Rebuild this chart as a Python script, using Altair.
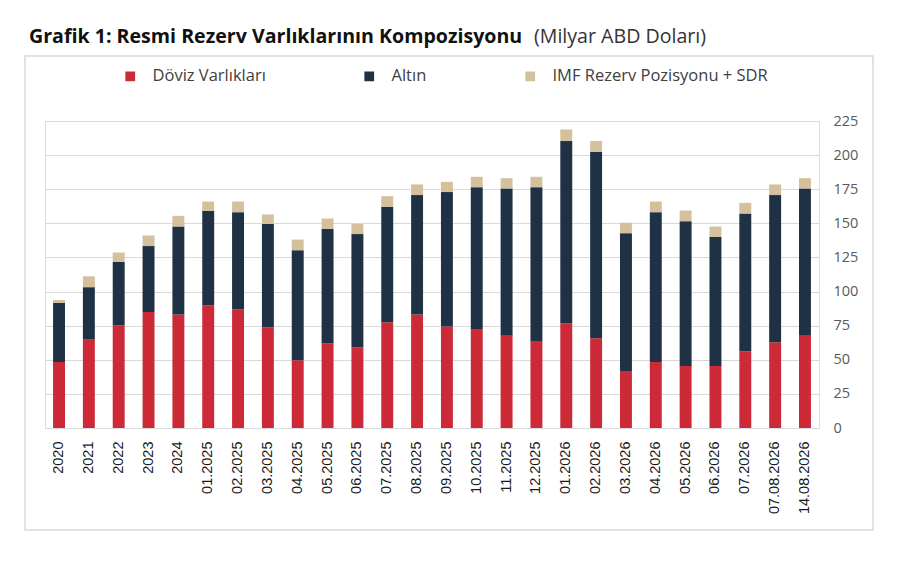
import altair as alt
import pandas as pd

# -----------------------------
# DATA (Milyar ABD Doları)
# -----------------------------
periods = [
    "2020", "2021", "2022", "2023", "2024",
    "01.2025", "02.2025", "03.2025", "04.2025", "05.2025", "06.2025",
    "07.2025", "08.2025", "09.2025", "10.2025", "11.2025", "12.2025",
    "01.2026", "02.2026", "03.2026", "04.2026", "05.2026", "06.2026",
    "07.2026", "07.08.2026", "14.08.2026",
]
doviz = [48.4, 64.8, 75.3, 85.1, 83.1, 90.0, 87.0, 73.6, 49.6, 62.1, 59.2,
         77.5, 83.1, 74.3, 72.6, 67.7, 63.8, 76.5, 65.8, 41.8, 48.4, 45.5,
         45.5, 56.2, 62.8, 67.7]
altin = [43.3, 38.4, 46.5, 48.2, 64.6, 69.2, 71.2, 76.0, 80.7, 83.9, 82.9,
         84.6, 87.6, 98.6, 103.9, 107.9, 112.7, 133.8, 136.6, 101.0, 109.8,
         106.1, 94.6, 101.0, 107.9, 107.9]
imf = [2.2, 8.0, 6.8, 7.8, 7.8, 6.8, 7.8, 6.9, 7.8, 7.5, 7.5, 7.8, 7.8,
       7.5, 7.6, 7.5, 7.6, 8.5, 7.9, 7.6, 7.8, 7.8, 7.6, 7.8, 7.8, 7.5]

series = ["Döviz Varlıkları", "Altın", "IMF Rezerv Pozisyonu + SDR"]
colors = ["#CB2A36", "#1F3144", "#D4C09C"]

title_bold = "Grafik 1: Resmi Rezerv Varlıklarının Kompozisyonu"
title_unit = "(Milyar ABD Doları)"

rows = []
for i, p in enumerate(periods):
    for k, vals in enumerate([doviz, altin, imf]):
        rows.append({"Dönem": p, "Seri": series[k], "Değer": vals[i], "Sıra": k})
df = pd.DataFrame(rows)

W, H = 774, 307

# -----------------------------
# STACKED BARS
# -----------------------------
bars = (
    alt.Chart(df)
    .mark_bar()
    .encode(
        x=alt.X(
            "Dönem:N", sort=periods, title=None,
            scale=alt.Scale(paddingInner=0.6, paddingOuter=0.27),
            axis=alt.Axis(labelAngle=270, labelFont="Liberation Sans",
                          labelFontSize=14.5, labelColor="#1a1a1a",
                          ticks=False, domain=False, grid=False,
                          labelPadding=13),
        ),
        y=alt.Y(
            "Değer:Q", stack="zero", title=None,
            scale=alt.Scale(domain=[0, 225], nice=False),
            axis=alt.Axis(orient="right", values=list(range(0, 226, 25)),
                          ticks=False, domain=False, labelPadding=14,
                          labelFont="Open Sans", labelFontSize=14.5,
                          labelColor="#595959", gridColor="#d9d9d9"),
        ),
        color=alt.Color(
            "Seri:N",
            scale=alt.Scale(domain=series, range=colors),
            legend=alt.Legend(title=None, orient="none", legendX=77, legendY=-53,
                              direction="horizontal", symbolType="square",
                              symbolSize=95, symbolStrokeWidth=0,
                              labelFont="Open Sans", labelFontSize=16.5,
                              labelColor="#404040", columnPadding=95,
                              labelOffset=14, labelLimit=400, padding=0),
        ),
        order=alt.Order("Sıra:Q"),
    )
)

# -----------------------------
# TITLE + FRAME
# -----------------------------
one = pd.DataFrame({"a": [title_bold], "b": [title_unit]})

t_bold = alt.Chart(one).mark_text(
    align="left", baseline="alphabetic", font="Open Sans", fontSize=19.6,
    fontWeight="bold", color="#111111"
).encode(x=alt.value(-16), y=alt.value(-78), text="a:N")

t_unit = alt.Chart(one).mark_text(
    align="left", baseline="alphabetic", font="Open Sans", fontSize=19.6,
    color="#333333"
).encode(x=alt.value(489), y=alt.value(-78), text="b:N")

frame = alt.Chart(one).mark_rect(
    fill="transparent", stroke="#d9d9d9", strokeWidth=1.5
).encode(x=alt.value(-20), x2=alt.value(828), y=alt.value(-65), y2=alt.value(409))

chart = (
    alt.layer(frame, bars, t_bold, t_unit)
    .properties(width=W, height=H,
                padding={"left": 37, "top": 113, "right": 74, "bottom": 144},
                autosize=alt.AutoSizeParams(type="none"))
    .configure_view(stroke="#d9d9d9", strokeWidth=1)
    .configure(background="white")
)

chart.save("out.html", embed_options={"renderer": "svg", "actions": False})
